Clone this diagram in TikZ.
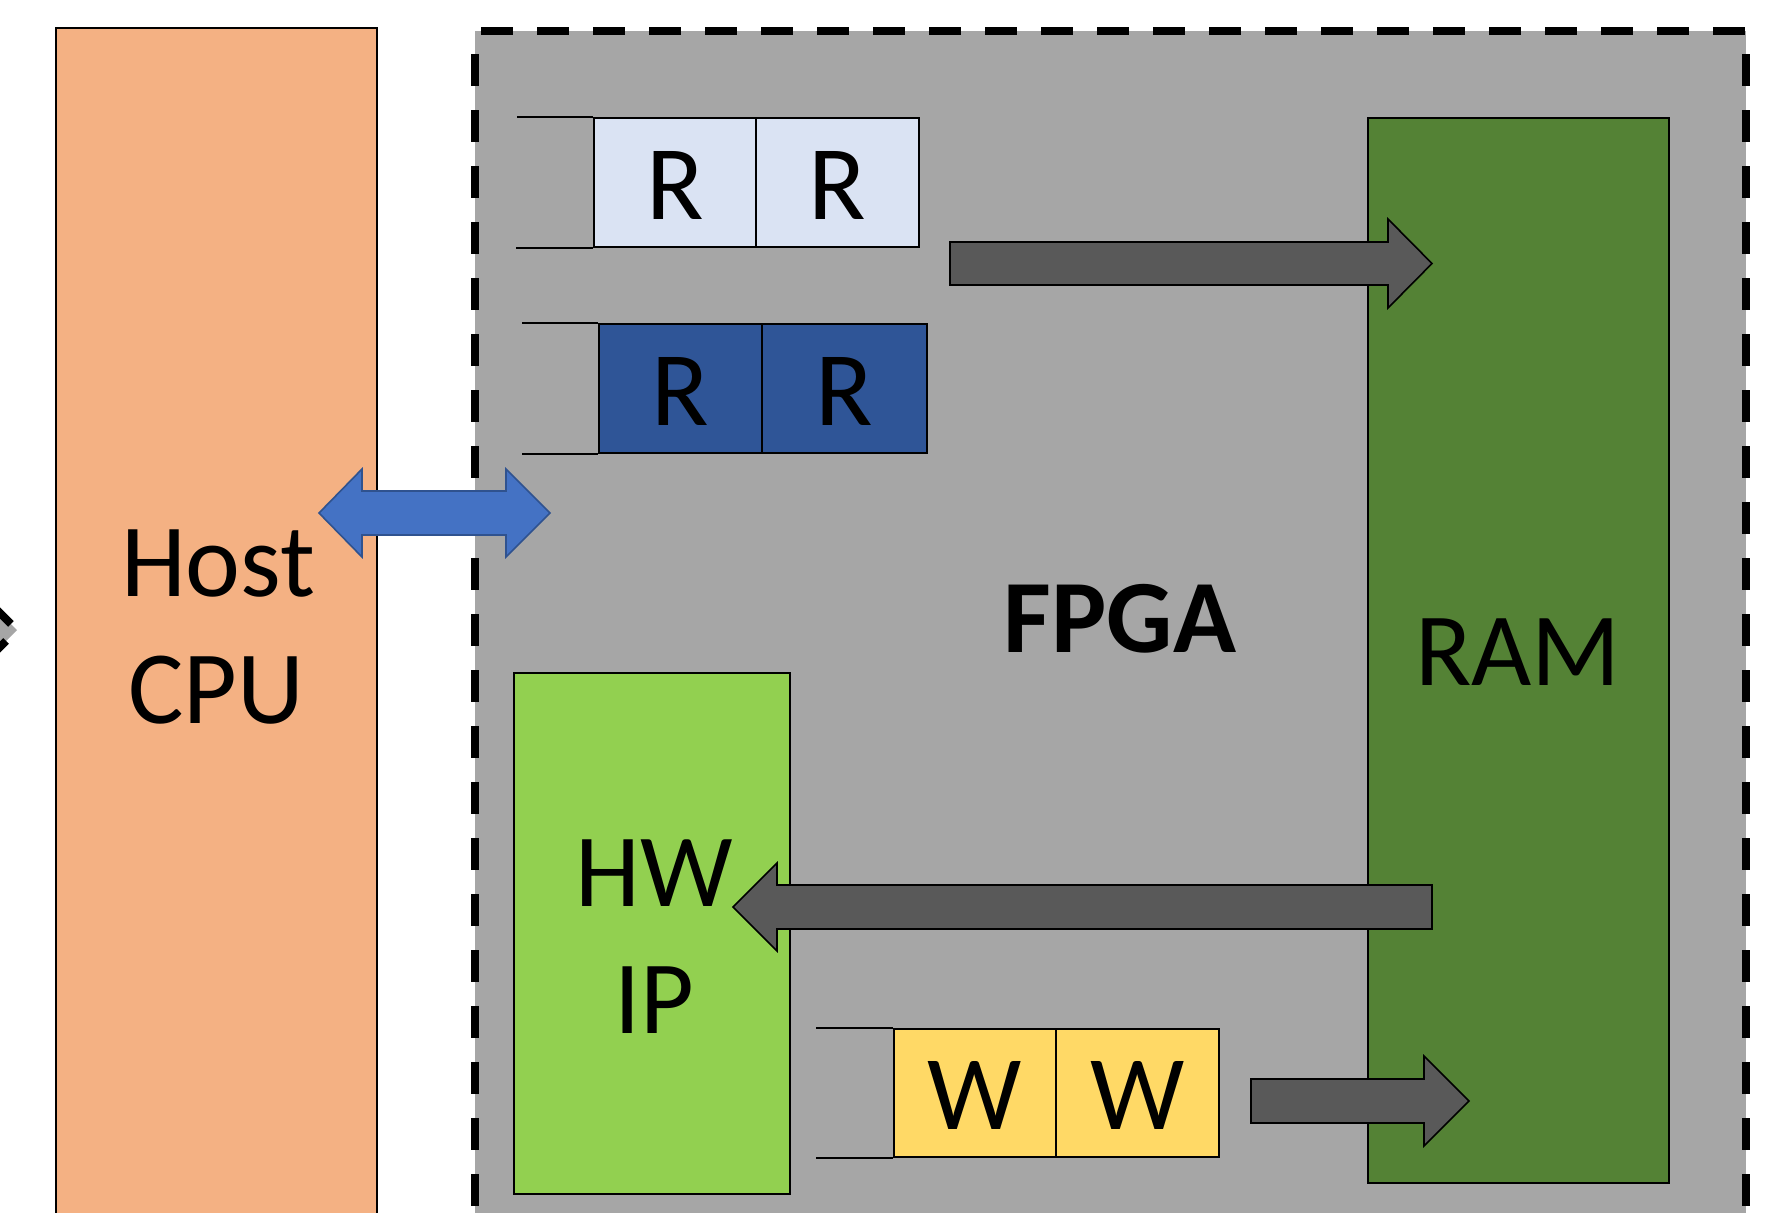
\documentclass[tikz,border=0pt]{standalone}
\usepackage{fontspec}
\setmainfont{Carlito}
\definecolor{hostc}{HTML}{F4B183}
\definecolor{fpgac}{HTML}{A6A6A6}
\definecolor{rlight}{HTML}{DAE3F3}
\definecolor{rdark}{HTML}{2F5597}
\definecolor{ramc}{HTML}{548235}
\definecolor{hwc}{HTML}{92D050}
\definecolor{wc}{HTML}{FFD966}
\definecolor{arrc}{HTML}{595959}
\definecolor{bluec}{HTML}{4472C4}
\definecolor{blueb}{HTML}{2F528F}
\begin{document}
\begin{tikzpicture}[x=0.5pt,y=-0.5pt,
  box/.style={draw=black, line width=1pt, inner sep=0pt, rectangle},
  cell/.style={box, line width=1.1pt, minimum height=64.5pt, text height=36.5pt, text depth=0pt, font=\fontsize{53}{62}\selectfont},
  big/.style={font=\fontsize{52}{63.5}\selectfont, inner sep=0pt, anchor=base},
  blockarrow/.style={fill=arrc, draw=black, line width=0.8pt, line join=miter},
  qline/.style={draw=black, line width=1pt},
  fpgaborder/.style={draw=black, line width=4pt}]
\useasboundingbox (0,0) rectangle (1782,1212);
\clip (0,0) rectangle (1782,1212);
\fill[white] (0,0) rectangle (1782,1212);

% partial shape at left edge
\fill[fpgac] (-40,573) -- (17,630) -- (-40,687) -- cycle;
\draw[fpgaborder, dash pattern=on 16pt off 12pt, dash phase=8pt] (-40,573) -- (17,630) -- (-40,687);

% Host CPU
\node[box, fill=hostc, minimum width=160.5pt, minimum height=616pt] (host) at (216.5,644) {};
\node[big] (hostt1) at (218,596) {Host};
\node[big] (hostt2) at (216,723) {CPU};

% FPGA region
\fill[fpgac] (475,31) rectangle (1746,1300);
\draw[fpgaborder, dash pattern=on 16pt off 12pt, dash phase=25pt] (475,31) -- (1746,31);
\draw[fpgaborder, dash pattern=on 16pt off 12pt, dash phase=16.5pt] (1746,31) -- (1746,1300);
\draw[fpgaborder, dash pattern=on 16pt off 12pt, dash phase=16.5pt] (475,31) -- (475,1300);
\node[big, font=\fontsize{52}{62}\selectfont\bfseries] (fpgat) at (1120,652) {FPGA};

% RAM
\node[box, fill=ramc, minimum width=150.5pt, minimum height=532.5pt] (ram) at (1518.5,650.5) {};
\node[big] (ramt) at (1518,685) {RAM};

% HW IP
\node[box, fill=hwc, minimum width=138pt, minimum height=260.5pt] (hw) at (652,933.5) {};
\node[big] (hwt1) at (654,906) {HW};
\node[big] (hwt2) at (654,1033) {IP};

% read queues
\node[cell, fill=rlight, minimum width=81pt] (rl1) at (675,182.5) {R};
\node[cell, fill=rlight, minimum width=81.5pt] (rl2) at (837.5,182.5) {R};
\node[cell, fill=rdark, minimum width=81.5pt] (rd1) at (680.5,388.5) {R};
\node[cell, fill=rdark, minimum width=82.5pt] (rd2) at (844.5,388.5) {R};
\draw[qline] (rl1.north west) -- ++(-76,0);
\draw[qline] (rl1.south west) -- ++(-77,0);
\draw[qline] (rd1.north west) -- ++(-76,0);
\draw[qline] (rd1.south west) -- ++(-76,0);

% write queue
\node[cell, fill=wc, minimum width=81pt, minimum height=64pt] (w1) at (975,1093) {W};
\node[cell, fill=wc, minimum width=81.5pt, minimum height=64pt] (w2) at (1137.5,1093) {W};
\draw[qline] (w1.north west) -- ++(-77,0);
\draw[qline] (w1.south west) -- ++(-77,0);

% block arrows
\draw[blockarrow] (950,242) -- (1388,242) -- (1388,219) -- (1432,263.5) -- (1388,308) -- (1388,285) -- (950,285) -- cycle;
\draw[blockarrow] (1432,885) -- (777,885) -- (777,863) -- (733,907) -- (777,951) -- (777,929) -- (1432,929) -- cycle;
\draw[blockarrow] (1251,1079) -- (1424,1079) -- (1424,1056) -- (1469,1101) -- (1424,1146) -- (1424,1123) -- (1251,1123) -- cycle;

% host <-> FPGA arrow
\draw[fill=bluec, draw=blueb, line width=0.8pt, line join=miter] (319,513) -- (362,469) -- (362,491) -- (506,491) -- (506,469) -- (550,513) -- (506,557) -- (506,535) -- (362,535) -- (362,557) -- cycle;
\end{tikzpicture}
\end{document}
